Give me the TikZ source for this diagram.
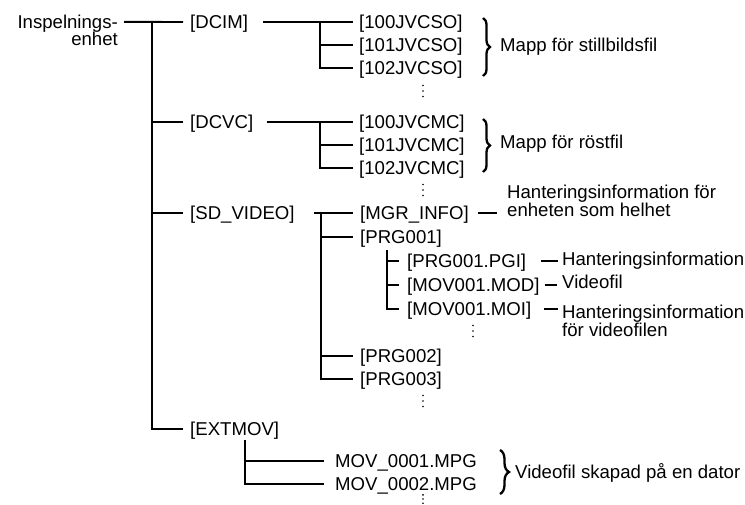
\documentclass[tikz,border=0pt]{standalone}
\usepackage{fontspec}
\setmainfont{Liberation Sans}
\usetikzlibrary{decorations.pathreplacing}
\newcommand\dsz{\fontsize{18.6}{19}\selectfont}
\begin{document}
\begin{tikzpicture}[x=1pt,y=-1pt,
  lab/.style={anchor=west, inner sep=0pt, text height=13.3pt, text depth=0pt, font=\dsz},
  conn/.style={line width=1.9pt},
  brc/.style={decorate, decoration={brace, amplitude=7pt}, line width=2.3pt},
  vd/.style={circle, fill=black, inner sep=0pt, minimum size=1.9pt}
]
\useasboundingbox (0,0) rectangle (745,504);
% root
\node[lab, anchor=base east] (insp) at (118,28.5) {Inspelnings-};
\node[lab, anchor=base east] (enh) at (118,45.5) {enhet};
% level 1
\node[lab] (dcim) at (190,22) {[DCIM]};
\node[lab] (dcvc) at (190,122) {[DCVC]};
\node[lab] (sdv) at (190,213) {[SD\_VIDEO]};
\node[lab] (ext) at (190,429) {[EXTMOV]};
% DCIM children
\node[lab] (s100) at (359,22) {[100JVCSO]};
\node[lab] (s101) at (359,45) {[101JVCSO]};
\node[lab] (s102) at (359,68) {[102JVCSO]};
% DCVC children
\node[lab] (m100) at (359,122) {[100JVCMC]};
\node[lab] (m101) at (359,145) {[101JVCMC]};
\node[lab] (m102) at (359,168) {[102JVCMC]};
% SD_VIDEO children
\node[lab] (mgr) at (360,213) {[MGR\_INFO]};
\node[lab] (p1) at (360,237) {[PRG001]};
\node[lab] (pgi) at (407,261) {[PRG001.PGI]};
\node[lab] (mod) at (407,285) {[MOV001.MOD]};
\node[lab] (moi) at (407,309) {[MOV001.MOI]};
\node[lab] (p2) at (360,356) {[PRG002]};
\node[lab] (p3) at (360,379) {[PRG003]};
% EXTMOV children
\node[lab] (mpg1) at (335,461) {MOV\_0001.MPG};
\node[lab] (mpg2) at (335,484) {MOV\_0002.MPG};
% right-hand labels
\node[lab] (lst) at (500,45) {Mapp för stillbildsfil};
\node[lab] (lrs) at (500,142) {Mapp för röstfil};
\node[lab] (lh1) at (507,191.5) {Hanteringsinformation för};
\node[lab] (lh2) at (507,210) {enheten som helhet};
\node[lab] (lpg) at (562,259) {Hanteringsinformation};
\node[lab] (lvf) at (562,282) {Videofil};
\node[lab] (lmo1) at (562,312) {Hanteringsinformation};
\node[lab] (lmo2) at (562,330) {för videofilen};
\node[lab] (lpc) at (515,472) {Videofil skapad på en dator};

% trunk
\coordinate (tr) at (152,22);
\draw[conn] ([xshift=6pt]insp.east) -- ([xshift=-7pt]dcim.west);
\draw[conn] (tr) |- ([xshift=-7pt]ext.west);
\draw[conn] (tr |- dcvc.west) -- ([xshift=-7pt]dcvc.west);
\draw[conn] (tr |- sdv.west) -- ([xshift=-7pt]sdv.west);
% DCIM subtree
\coordinate (v1) at (320,22);
\draw[conn] ([xshift=15pt]dcim.east) -- ([xshift=-6pt]s100.west);
\draw[conn] (v1) |- ([xshift=-6pt]s102.west);
\draw[conn] (v1 |- s101.west) -- ([xshift=-6pt]s101.west);
% DCVC subtree
\coordinate (v2) at (320,122);
\draw[conn] ([xshift=14pt]dcvc.east) -- ([xshift=-6pt]m100.west);
\draw[conn] (v2) |- ([xshift=-6pt]m102.west);
\draw[conn] (v2 |- m101.west) -- ([xshift=-6pt]m101.west);
% SD_VIDEO subtree
\coordinate (v3) at (321,213);
\draw[conn] ([xshift=19pt]sdv.east) -- ([xshift=-7pt]mgr.west);
\draw[conn] (v3) |- ([xshift=-7pt]p3.west);
\draw[conn] (v3 |- p1.west) -- ([xshift=-7pt]p1.west);
\draw[conn] (v3 |- p2.west) -- ([xshift=-7pt]p2.west);
% PRG001 subtree
\coordinate (v4) at (387,250);
\draw[conn] (v4) |- ([xshift=-8pt]moi.west);
\draw[conn] (v4 |- pgi.west) -- ([xshift=-8pt]pgi.west);
\draw[conn] (v4 |- mod.west) -- ([xshift=-8pt]mod.west);
% EXTMOV subtree
\coordinate (v5) at (245,440);
\draw[conn] (v5) |- ([xshift=-11pt]mpg2.west);
\draw[conn] (v5 |- mpg1.west) -- ([xshift=-11pt]mpg1.west);
% dashes to labels
\draw[conn] ([xshift=9pt]mgr.east) -- ([xshift=-10pt]lh2.west |- mgr.east);
\draw[conn] ([xshift=15pt]pgi.east) -- ([xshift=-4pt]lpg.west |- pgi.east);
\draw[conn] ([xshift=5pt]mod.east) -- ([xshift=-5pt]lvf.west |- mod.east);
\draw[conn] ([xshift=13pt]moi.east) -- ([xshift=-4pt]lmo1.west |- moi.east);
% braces
\draw[brc] (483,18) -- (483,76);
\draw[brc] (483,119) -- (483,172);
\draw[brc, decoration={brace, amplitude=9pt}] (500,450) -- (500,494);
% vertical ellipses
\foreach \x/\y/\d in {423/91/5.5, 423/190/5.5, 473/331/5.5, 423/401/5.5, 423/499/4.2} {
  \node[vd] at (\x,\y-\d) {};
  \node[vd] at (\x,\y) {};
  \node[vd] at (\x,\y+\d) {};
}
\end{tikzpicture}
\end{document}
